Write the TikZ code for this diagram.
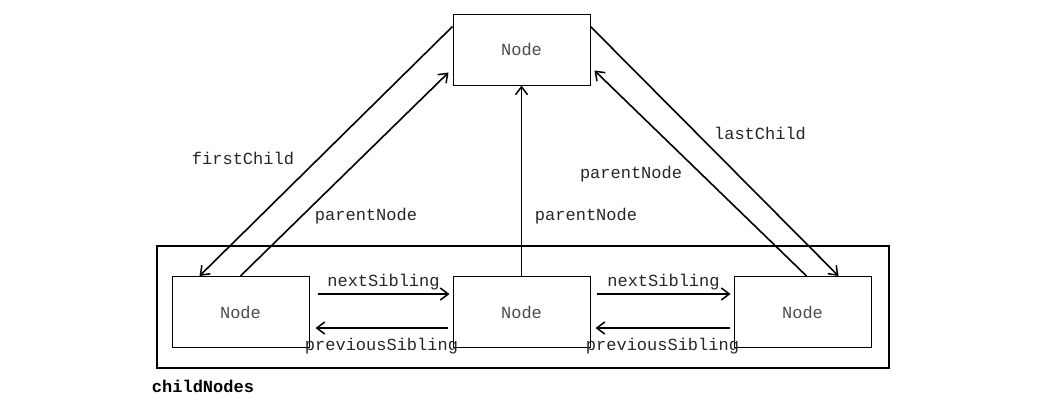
\documentclass[tikz,border=0pt]{standalone}
\usepackage{fontspec}
\newfontfamily\codefont{Liberation Mono}
\usepackage{tikz}
\usetikzlibrary{arrows.meta, positioning}

\begin{document}
\begin{tikzpicture}[
    x=1pt, y=-1pt,
    every node/.style={font=\codefont\fontsize{17}{20}\selectfont, text=black!85},
    domnode/.style={rectangle, draw=black, line width=1pt, fill=white,
                    minimum width=137pt, minimum height=71pt, inner sep=0pt, text=black!70},
    frame/.style={draw=black, line width=2.4pt},
    arrow/.style={-{Straight Barb[length=8pt, width=12pt, line width=1.5pt]}, black, line width=1.6pt},
    lbl/.style={inner sep=1pt}
]
    \useasboundingbox (0,0) rectangle (1054,410);
    % container of the children
    \draw[frame] (157,246) rectangle (889,368);
    \node[font=\codefont\bfseries\fontsize{17}{20}\selectfont, text=black] (list) at (203,386) {childNodes};

    \node[domnode] (parent) at (521.5,49.5) {Node};
    \node[domnode] (c2) at (521.5,312) {Node};
    \node[domnode, left=143pt of c2]  (c1) {Node};
    \node[domnode, right=143pt of c2] (c3) {Node};

    % siblings
    \draw[arrow] ([shift={(8pt,18pt)}]c1.east) -- node[lbl, above=2pt] (ns1) {nextSibling} ([shift={(-3pt,18pt)}]c2.west);
    \draw[arrow] ([shift={(-5pt,-16pt)}]c2.west) -- node[lbl, below=8pt] (ps1) {previousSibling} ([shift={(6pt,-16pt)}]c1.east);
    \draw[arrow] ([shift={(6pt,18pt)}]c2.east) -- node[lbl, above=2pt] (ns2) {nextSibling} ([shift={(-3pt,18pt)}]c3.west);
    \draw[arrow] ([shift={(-4pt,-16pt)}]c3.west) -- node[lbl, below=8pt] (ps2) {previousSibling} ([shift={(5pt,-16pt)}]c2.east);

    % parent links
    \draw[arrow] ([yshift=-13pt]parent.north west) -- ([xshift=28pt]c1.north west);
    \draw[arrow] (c1.north) -- ([shift={(-4pt,13pt)}]parent.south west);
    \draw[arrow] (c2.north) -- (parent.south);
    \draw[arrow] ([xshift=4pt]c3.north) -- ([shift={(4pt,15pt)}]parent.south east);
    \draw[arrow] ([yshift=-13pt]parent.north east) -- ([xshift=-33pt]c3.north east);

    \node[lbl] (fc)  at (243,158) {firstChild};
    \node[lbl] (pn1) at (366,216) {parentNode};
    \node[lbl] (pn2) at (586,216) {parentNode};
    \node[lbl] (pn3) at (631,174) {parentNode};
    \node[lbl] (lc)  at (760,133) {lastChild};
\end{tikzpicture}
\end{document}
